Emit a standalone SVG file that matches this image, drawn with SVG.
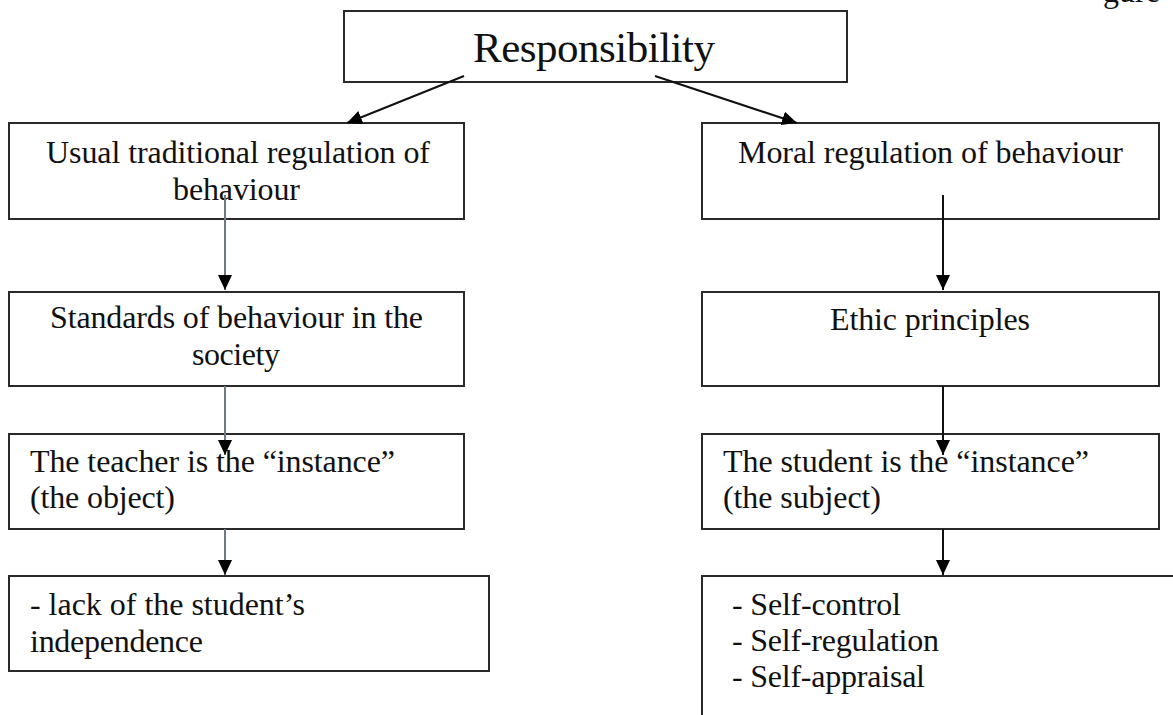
<svg xmlns="http://www.w3.org/2000/svg" width="1173" height="715" viewBox="0 0 1173 715">
<defs>
<style>
.box{fill:#fff;stroke:#2a2a2a;stroke-width:2}
.t{font-family:"Liberation Serif","Times New Roman",serif;font-size:32px;fill:#111}
.big{font-size:43px}
.c{stroke:#111;stroke-width:2;fill:none;marker-end:url(#ah)}
.g{stroke:#6e7c82}
</style>
<marker id="ah" markerUnits="userSpaceOnUse" markerWidth="16" markerHeight="16" refX="15" refY="7" orient="auto">
<path d="M0,0 L15,7 L0,14 z" fill="#000"/>
</marker>
</defs>
<rect width="1173" height="715" fill="#fff"/>
<text class="t" x="1103" y="2" font-size="24">gure</text>
<g id="responsibility">
<rect class="box" x="344" y="11" width="503" height="71"/>
<text class="t big" x="473" y="62" textLength="242" lengthAdjust="spacing">Responsibility</text>
</g>
<g id="usual">
<rect class="box" x="9" y="123" width="455" height="96"/>
<text class="t" x="46" y="163" textLength="384" lengthAdjust="spacing">Usual traditional regulation of</text>
<text class="t" x="173" y="200" textLength="127" lengthAdjust="spacing">behaviour</text>
</g>
<g id="standards">
<rect class="box" x="9" y="292" width="455" height="94"/>
<text class="t" x="50" y="328" textLength="373" lengthAdjust="spacing">Standards of behaviour in the</text>
<text class="t" x="192" y="365" textLength="88" lengthAdjust="spacing">society</text>
</g>
<g id="teacher">
<rect class="box" x="9" y="434" width="455" height="95"/>
<text class="t" x="30" y="472" textLength="365" lengthAdjust="spacing">The teacher is the “instance”</text>
<text class="t" x="30" y="508" textLength="145" lengthAdjust="spacing">(the object)</text>
</g>
<g id="lack">
<rect class="box" x="9" y="576" width="480" height="95"/>
<text class="t" x="30" y="615" textLength="275" lengthAdjust="spacing">- lack of the student’s</text>
<text class="t" x="30" y="652" textLength="173" lengthAdjust="spacing">independence</text>
</g>
<g id="moral">
<rect class="box" x="702" y="123" width="457" height="96"/>
<text class="t" x="738" y="163" textLength="385" lengthAdjust="spacing">Moral regulation of behaviour</text>
</g>
<g id="ethic">
<rect class="box" x="702" y="292" width="457" height="94"/>
<text class="t" x="830" y="330" textLength="200" lengthAdjust="spacing">Ethic principles</text>
</g>
<g id="student">
<rect class="box" x="702" y="434" width="457" height="95"/>
<text class="t" x="723" y="472" textLength="366" lengthAdjust="spacing">The student is the “instance”</text>
<text class="t" x="723" y="508" textLength="158" lengthAdjust="spacing">(the subject)</text>
</g>
<g id="self">
<rect class="box" x="702" y="576" width="480" height="160"/>
<text class="t" x="732" y="615" textLength="169" lengthAdjust="spacing">- Self-control</text>
<text class="t" x="732" y="651" textLength="207" lengthAdjust="spacing">- Self-regulation</text>
<text class="t" x="732" y="687" textLength="193" lengthAdjust="spacing">- Self-appraisal</text>
</g>
<g id="connectors">
<line class="c" x1="464" y1="76" x2="347" y2="123"/>
<line class="c" x1="655" y1="76" x2="797" y2="123"/>
<line class="c g" x1="225" y1="195" x2="225" y2="290"/>
<line class="c g" x1="225" y1="386" x2="225" y2="455"/>
<line class="c g" x1="225" y1="529" x2="225" y2="575"/>
<line class="c" x1="943" y1="195" x2="943" y2="290"/>
<line class="c" x1="943" y1="386" x2="943" y2="455"/>
<line class="c" x1="943" y1="529" x2="943" y2="575"/>
</g>
</svg>
